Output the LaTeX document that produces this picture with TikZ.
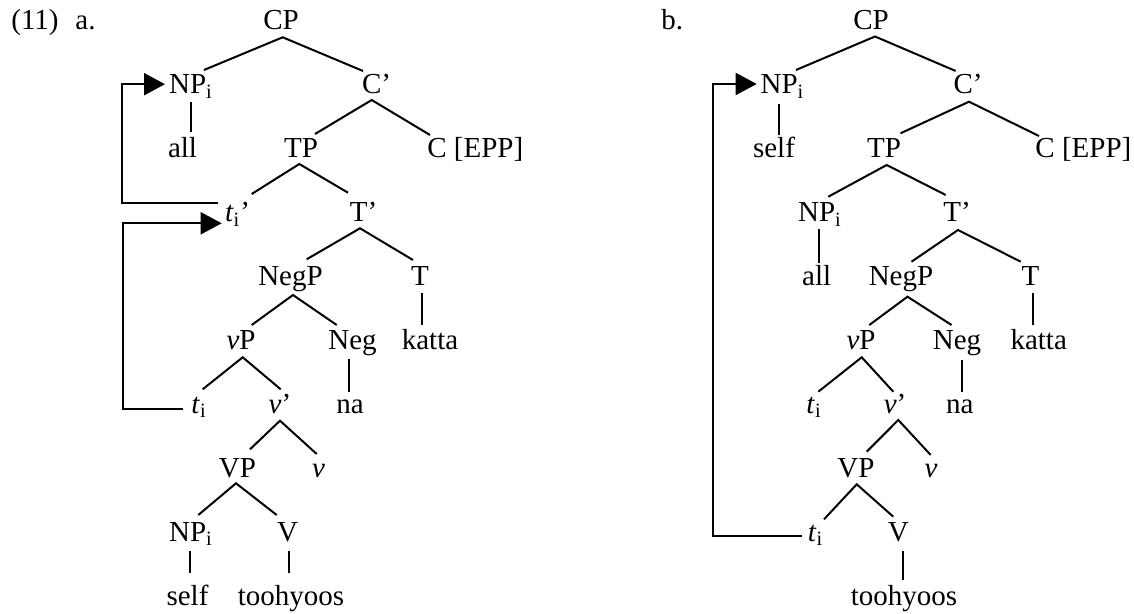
\documentclass[tikz,border=0pt]{standalone}
\usepackage{fontspec}
\setmainfont{Liberation Serif}
\usetikzlibrary{arrows.meta}
\begin{document}
\begin{tikzpicture}[x=0.5pt,y=-0.5pt,
  lbl/.style={inner sep=0pt,anchor=base,font=\fontsize{14.5}{17}\selectfont},
  lblw/.style={lbl,anchor=base west},
  branch/.style={line width=1pt},
  movearrow/.style={line width=1pt,-{Triangle[length=10.5pt,width=11pt]}}]
\useasboundingbox (0,0) rectangle (1134,614);
\newcommand{\ti}{\textit{t}\textsubscript{i}}
\newcommand{\NPi}{NP\textsubscript{i}}
% ================= panel a =================
\node[lblw] (laba) at (11,30) {(11)\hspace{8.4pt}a.};
\node[lbl] (CPa) at (281,30) {CP};
\node[lbl] (NPa) at (191,94) {\NPi};
\node[lbl] (Cba) at (376.5,94) {C’};
\node[lbl] (alla) at (182.5,157.8) {all};
\node[lbl] (TPa) at (301,157.8) {TP};
\node[lblw] (CEa) at (427,157.8) {C [EPP]};
\node[lbl] (tia2) at (237.5,221.7) {\ti’};
\node[lbl] (Tba) at (363.5,221.7) {T’};
\node[lbl] (NegPa) at (290.5,285.6) {NegP};
\node[lbl] (Ta) at (420,285.6) {T};
\node[lbl] (vPa) at (241,349.5) {\textit{v}P};
\node[lbl] (Nega) at (352.5,349.5) {Neg};
\node[lbl] (katta) at (430,349.5) {katta};
\node[lbl] (tia) at (199,413.4) {\ti};
\node[lbl] (vba) at (280,413.4) {\textit{v}’};
\node[lbl] (naa) at (350,413.4) {na};
\node[lbl] (VPa) at (237.5,477.3) {VP};
\node[lbl] (va) at (318.5,477.3) {\textit{v}};
\node[lbl] (NPa2) at (191,541.2) {\NPi};
\node[lbl] (Va) at (287.5,541.2) {V};
\node[lbl] (selfa) at (187.5,605) {self};
\node[lbl] (tooa) at (291,605) {toohyoos};
% connector ends, panel a
\coordinate (CPa-b) at (282.7,37.3);
\coordinate (NPa-t) at (204,70);
\coordinate (Cba-t) at (363,71);
\coordinate (Cba-b) at (371.7,100);
\coordinate (TPa-t) at (315,134);
\coordinate (CEa-t) at (430,135);
\coordinate (TPa-b) at (299.3,164);
\coordinate (tia2-t) at (251.7,194);
\coordinate (Tba-t) at (348,192.7);
\coordinate (Tba-b) at (360,228.3);
\coordinate (NegPa-t) at (306.7,259.3);
\coordinate (Ta-t) at (413,260);
\coordinate (NegPa-b) at (293,295);
\coordinate (vPa-t) at (251.7,325);
\coordinate (Nega-t) at (336.7,325);
\coordinate (vPa-b) at (242.7,357.3);
\coordinate (tia-t) at (202.7,389.3);
\coordinate (vba-t) at (280.7,389.3);
\coordinate (vba-b) at (280,420.7);
\coordinate (VPa-t) at (250,449.3);
\coordinate (va-t) at (316.7,454);
\coordinate (VPa-b) at (236,483.3);
\coordinate (NPa2-t) at (198.3,515);
\coordinate (Va-t) at (276.7,515);
\coordinate (NPa-b) at (191,101.7);
\coordinate (alla-t) at (191,131.7);
\coordinate (Ta-b) at (422.3,293);
\coordinate (katta-t) at (422.3,325);
\coordinate (Nega-b) at (349.3,359.3);
\coordinate (naa-t) at (349.3,391.7);
\coordinate (NPa2-b) at (190,550.7);
\coordinate (selfa-t) at (190,573.3);
\coordinate (Va-b) at (289.3,550.7);
\coordinate (tooa-t) at (289.3,573.3);
\draw[branch] (NPa-t) -- (CPa-b) -- (Cba-t);
\draw[branch] (TPa-t) -- (Cba-b) -- (CEa-t);
\draw[branch] (tia2-t) -- (TPa-b) -- (Tba-t);
\draw[branch] (NegPa-t) -- (Tba-b) -- (Ta-t);
\draw[branch] (vPa-t) -- (NegPa-b) -- (Nega-t);
\draw[branch] (tia-t) -- (vPa-b) -- (vba-t);
\draw[branch] (VPa-t) -- (vba-b) -- (va-t);
\draw[branch] (NPa2-t) -- (VPa-b) -- (Va-t);
\draw[branch] (NPa-b) -- (alla-t);
\draw[branch] (Ta-b) -- (katta-t);
\draw[branch] (Nega-b) -- (naa-t);
\draw[branch] (NPa2-b) -- (selfa-t);
\draw[branch] (Va-b) -- (tooa-t);
% movement arrows, panel a
\coordinate (tia2-w) at (218.3,203.3);
\coordinate (ka1) at (121.7,203.3);
\coordinate (NPa-w) at (165,84.2);
\coordinate (tia-w) at (183.3,409.3);
\coordinate (ka2) at (122.7,409.3);
\coordinate (tia2-sw) at (221.7,223.3);
\draw[movearrow] (tia2-w) -- (ka1) |- (NPa-w);
\draw[movearrow] (tia-w) -- (ka2) |- (tia2-sw);
% ================= panel b =================
\node[lblw] (labb) at (661,30) {b.};
\node[lbl] (CPb) at (871,30) {CP};
\node[lbl] (NPb) at (782.5,94) {\NPi};
\node[lbl] (Cbb) at (968,94) {C’};
\node[lbl] (selfb) at (774,157.8) {self};
\node[lbl] (TPb) at (884,157.8) {TP};
\node[lblw] (CEb) at (1035,157.8) {C [EPP]};
\node[lbl] (NPb2) at (820,221.7) {\NPi};
\node[lbl] (Tbb) at (957,221.7) {T’};
\node[lbl] (allb) at (816.7,285.6) {all};
\node[lbl] (NegPb) at (901,285.6) {NegP};
\node[lbl] (Tb) at (1030.5,285.6) {T};
\node[lbl] (vPb) at (861,349.5) {\textit{v}P};
\node[lbl] (Negb) at (957,349.5) {Neg};
\node[lbl] (kattb) at (1038.7,349.5) {katta};
\node[lbl] (tib) at (814,413.4) {\ti};
\node[lbl] (vbb) at (895,413.4) {\textit{v}’};
\node[lbl] (nab) at (959.7,413.4) {na};
\node[lbl] (VPb) at (856,477.3) {VP};
\node[lbl] (vb) at (931,477.3) {\textit{v}};
\node[lbl] (tib2) at (815.5,541.2) {\ti};
\node[lbl] (Vb) at (898.3,541.2) {V};
\node[lbl] (toob) at (904,605) {toohyoos};
% connector ends, panel b
\coordinate (CPb-b) at (875,36.5);
\coordinate (NPb-t) at (796,70);
\coordinate (Cbb-t) at (955.7,71);
\coordinate (Cbb-b) at (969,101.7);
\coordinate (TPb-t) at (900.5,133.3);
\coordinate (CEb-t) at (1039,136);
\coordinate (TPb-b) at (886.7,165);
\coordinate (NPb2-t) at (828.3,196.7);
\coordinate (Tbb-t) at (945.7,195);
\coordinate (Tbb-b) at (958,230);
\coordinate (NegPb-t) at (911.5,261.7);
\coordinate (Tb-t) at (1020.7,261.7);
\coordinate (NegPb-b) at (907.5,296.7);
\coordinate (vPb-t) at (869.3,325);
\coordinate (Negb-t) at (951.5,325);
\coordinate (vPb-b) at (861.7,357.3);
\coordinate (tib-t) at (818.3,391.7);
\coordinate (vbb-t) at (893.3,391.7);
\coordinate (vbb-b) at (898.3,420);
\coordinate (VPb-t) at (866.7,451.7);
\coordinate (vb-t) at (930.7,455);
\coordinate (VPb-b) at (856.7,484.3);
\coordinate (tib2-t) at (824,519.3);
\coordinate (Vb-t) at (893.3,516.7);
\coordinate (NPb-b) at (779.3,104);
\coordinate (selfb-t) at (779.3,135);
\coordinate (NPb2-b) at (819,229);
\coordinate (allb-t) at (819,263);
\coordinate (Tb-b) at (1033,293.3);
\coordinate (kattb-t) at (1033,325);
\coordinate (Negb-b) at (962,360);
\coordinate (nab-t) at (962,391.7);
\coordinate (Vb-b) at (902.7,550.7);
\coordinate (toob-t) at (902.7,580);
\draw[branch] (NPb-t) -- (CPb-b) -- (Cbb-t);
\draw[branch] (TPb-t) -- (Cbb-b) -- (CEb-t);
\draw[branch] (NPb2-t) -- (TPb-b) -- (Tbb-t);
\draw[branch] (NegPb-t) -- (Tbb-b) -- (Tb-t);
\draw[branch] (vPb-t) -- (NegPb-b) -- (Negb-t);
\draw[branch] (tib-t) -- (vPb-b) -- (vbb-t);
\draw[branch] (VPb-t) -- (vbb-b) -- (vb-t);
\draw[branch] (tib2-t) -- (VPb-b) -- (Vb-t);
\draw[branch] (NPb-b) -- (selfb-t);
\draw[branch] (NPb2-b) -- (allb-t);
\draw[branch] (Tb-b) -- (kattb-t);
\draw[branch] (Negb-b) -- (nab-t);
\draw[branch] (Vb-b) -- (toob-t);
% movement arrow, panel b
\coordinate (tib2-w) at (801.7,536);
\coordinate (kb) at (713.3,536);
\coordinate (NPb-w) at (756.7,84);
\draw[movearrow] (tib2-w) -- (kb) |- (NPb-w);
\end{tikzpicture}
\end{document}
